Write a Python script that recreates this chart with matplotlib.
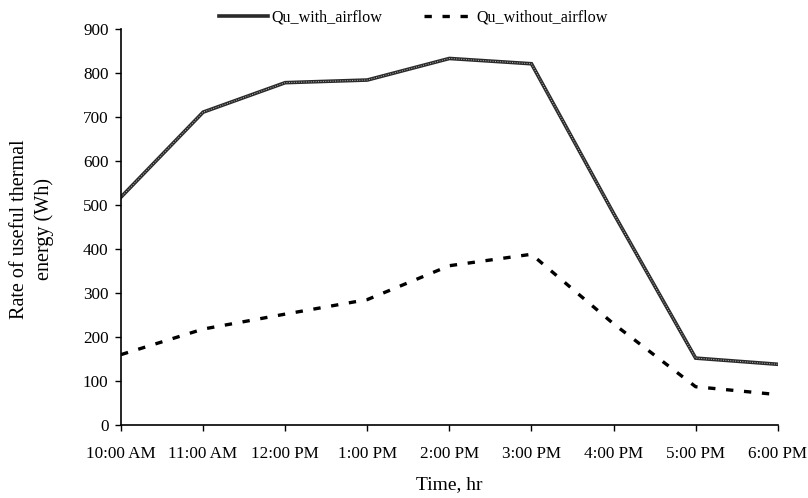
import matplotlib
matplotlib.use("Agg")
import matplotlib.pyplot as plt

times = ["10:00 AM", "11:00 AM", "12:00 PM", "1:00 PM", "2:00 PM",
         "3:00 PM", "4:00 PM", "5:00 PM", "6:00 PM"]
qu_with_airflow = [518, 711, 778, 784, 833, 821, 481, 152, 138]
qu_without_airflow = [160, 218, 252, 285, 362, 388, 230, 87, 69]

plt.rcParams['font.family'] = ['Liberation Serif', 'DejaVu Serif']
plt.rcParams['font.size'] = 12.3

fig = plt.figure(figsize=(8.08, 4.98), dpi=100)
ax = fig.add_axes([0.1498, 0.1466, 0.9625 - 0.1498, 0.9418 - 0.1466])

x = list(range(len(times)))
# textured line for the airflow case: dark core with a light stipple on top
h1, = ax.plot(x, qu_with_airflow, color='#2a2a2a', lw=2.6, solid_joinstyle='miter')
ax.plot(x, qu_with_airflow, color='#bdbdbd', lw=0.7, dashes=(1, 1.5))
h2, = ax.plot(x, qu_without_airflow, color='black', lw=2.4, dashes=(2.2, 3.2))

ax.set_xlim(0, len(times) - 1)
ax.set_ylim(0, 900)
ax.set_yticks(range(0, 901, 100))
ax.set_xticks(x)
ax.set_xticklabels(times)
ax.tick_params(axis='both', direction='out', length=4, width=1, colors='black')
ax.tick_params(axis='x', pad=11)
ax.tick_params(axis='y', pad=5)
ax.spines['top'].set_visible(False)
ax.spines['right'].set_visible(False)
for s in ['left', 'bottom']:
    ax.spines[s].set_linewidth(1.2)

fig.text(32 / 808, 0.54, "Rate of useful thermal\nenergy (Wh)", rotation=90,
         ha='center', va='center', fontsize=14.5, linespacing=1.35,
         multialignment='center')
ax.set_xlabel("Time, hr", fontsize=14, labelpad=10)

fig.legend([h1, h2], ["Qu_with_airflow", "Qu_without_airflow"],
           loc='center', bbox_to_anchor=(0.512, 1 - 18 / 498), ncol=2,
           frameon=False, handlelength=3.0, handletextpad=0.25,
           columnspacing=2.6, fontsize=11.6, borderpad=0)

fig.savefig("out.png", dpi=100)
